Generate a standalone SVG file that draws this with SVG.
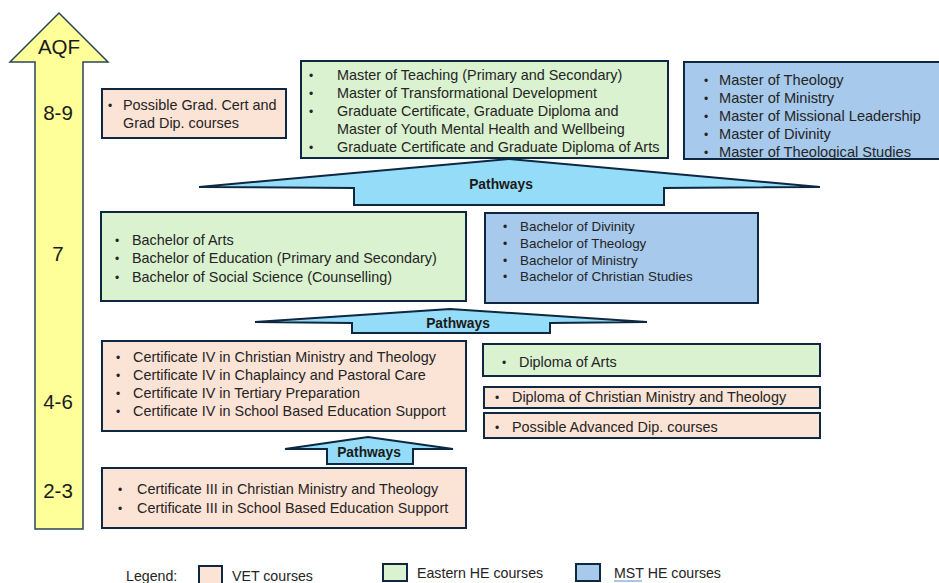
<svg xmlns="http://www.w3.org/2000/svg" width="939" height="583" viewBox="0 0 939 583">
<style>
.box{stroke:#0e2841;stroke-width:2}
.vet{fill:#fbe3d6}
.eh{fill:#daf2d0}
.mst{fill:#a6c9ec}
.pw{fill:#94dcf8;stroke:#0e2841;stroke-width:2;stroke-linejoin:miter}
text{font-family:"Liberation Sans",Arial,sans-serif;fill:#242424}
.t{font-size:14.4px}
.tm{font-size:14.6px}
.tn{font-size:13.4px}
.b{font-size:12px}
.aqf{font-size:20.5px;text-anchor:middle;fill:#1a1a1a}
.pl{font-size:13.8px;font-weight:bold;text-anchor:middle;fill:#1a1a1a}
.lg{font-size:14.2px}
</style>
<rect width="939" height="583" fill="#ffffff"/>

<g id="aqf-arrow">
<polygon points="59,13 108,62 83,62 83,529 35,529 35,62 10,62" fill="#ffff99" stroke="#2a4656" stroke-width="1.5"/>
<text class="aqf" x="59" y="54">AQF</text>
<text class="aqf" x="58" y="120">8-9</text>
<text class="aqf" x="58" y="261">7</text>
<text class="aqf" x="58" y="409">4-6</text>
<text class="aqf" x="58" y="498">2-3</text>
</g>

<g id="connectors">
<g id="pathways-top">
<polygon class="pw" points="199,187 509,159 820,187 664,188 664,205 354,205 354,188"/>
<text class="pl" x="501" y="189">Pathways</text>
</g>
<g id="pathways-mid">
<polygon class="pw" points="255,322 450,309 647,322 550,323 550,333 352,333 352,323"/>
<text class="pl" x="458" y="328">Pathways</text>
</g>
<g id="pathways-low">
<polygon class="pw" points="285,449 368,437 453,449 413,449 413,464 327,464 327,449"/>
<text class="pl" x="369" y="457">Pathways</text>
</g>
</g>

<g id="grad-cert">
<rect class="box vet" x="102" y="89" width="184" height="49"/>
<text class="b" x="108" y="110">•</text>
<text class="t" x="123" y="110">Possible Grad. Cert and</text>
<text class="t" x="123" y="128">Grad Dip. courses</text>
</g>

<g id="eastern-masters">
<rect class="box eh" x="301" y="61" width="367" height="97"/>
<text class="b" x="309" y="80">•</text>
<text class="t" x="337" y="80">Master of Teaching (Primary and Secondary)</text>
<text class="b" x="309" y="98">•</text>
<text class="t" x="337" y="98">Master of Transformational Development</text>
<text class="b" x="309" y="116">•</text>
<text class="t" x="337" y="116">Graduate Certificate, Graduate Diploma and</text>
<text class="t" x="337" y="134">Master of Youth Mental Health and Wellbeing</text>
<text class="b" x="309" y="152">•</text>
<text class="t" x="337" y="152">Graduate Certificate and Graduate Diploma of Arts</text>
</g>

<g id="mst-masters">
<rect class="box mst" x="684" y="62" width="262" height="97"/>
<text class="b" x="704" y="85">•</text>
<text class="tm" x="719" y="85">Master of Theology</text>
<text class="b" x="704" y="103">•</text>
<text class="tm" x="719" y="103">Master of Ministry</text>
<text class="b" x="704" y="121">•</text>
<text class="tm" x="719" y="121">Master of Missional Leadership</text>
<text class="b" x="704" y="139">•</text>
<text class="tm" x="719" y="139">Master of Divinity</text>
<text class="b" x="704" y="157">•</text>
<text class="tm" x="719" y="157">Master of Theological Studies</text>
</g>

<g id="eastern-bachelors">
<rect class="box eh" x="101" y="212" width="365" height="89"/>
<text class="b" x="115" y="245">•</text>
<text class="t" x="132" y="245">Bachelor of Arts</text>
<text class="b" x="115" y="263">•</text>
<text class="t" x="132" y="263">Bachelor of Education (Primary and Secondary)</text>
<text class="b" x="115" y="282">•</text>
<text class="t" x="132" y="282">Bachelor of Social Science (Counselling)</text>
</g>

<g id="mst-bachelors">
<rect class="box mst" x="485" y="213" width="273" height="90"/>
<text class="b" x="503" y="231">•</text>
<text class="tn" x="520" y="231">Bachelor of Divinity</text>
<text class="b" x="503" y="248">•</text>
<text class="tn" x="520" y="248">Bachelor of Theology</text>
<text class="b" x="503" y="265">•</text>
<text class="tn" x="520" y="265">Bachelor of Ministry</text>
<text class="b" x="503" y="281">•</text>
<text class="tn" x="520" y="281">Bachelor of Christian Studies</text>
</g>

<g id="cert-iv">
<rect class="box vet" x="102" y="341" width="364" height="90"/>
<text class="b" x="116" y="362">•</text>
<text class="t" x="133" y="362">Certificate IV in Christian Ministry and Theology</text>
<text class="b" x="116" y="380">•</text>
<text class="t" x="133" y="380">Certificate IV in Chaplaincy and Pastoral Care</text>
<text class="b" x="116" y="398">•</text>
<text class="t" x="133" y="398">Certificate IV in Tertiary Preparation</text>
<text class="b" x="116" y="416">•</text>
<text class="t" x="133" y="416">Certificate IV in School Based Education Support</text>
</g>

<g id="cert-iii">
<rect class="box vet" x="102" y="468" width="364" height="60"/>
<text class="b" x="118" y="494">•</text>
<text class="t" x="137" y="494">Certificate III in Christian Ministry and Theology</text>
<text class="b" x="118" y="513">•</text>
<text class="t" x="137" y="513">Certificate III in School Based Education Support</text>
</g>

<g id="diploma-arts">
<rect class="box eh" x="483" y="344" width="337" height="32"/>
<text class="b" x="502" y="367">•</text>
<text class="t" x="519" y="367">Diploma of Arts</text>
</g>

<g id="diploma-cmt">
<rect class="box vet" x="484" y="387" width="336" height="21"/>
<text class="b" x="495" y="402">•</text>
<text class="t" x="512" y="402">Diploma of Christian Ministry and Theology</text>
</g>

<g id="adv-dip">
<rect class="box vet" x="484" y="413" width="336" height="25"/>
<text class="b" x="495" y="432">•</text>
<text class="t" x="512" y="432">Possible Advanced Dip. courses</text>
</g>

<g id="legend">
<text class="lg" x="126" y="581">Legend:</text>
<rect class="box vet" x="199" y="566" width="23" height="20"/>
<text class="lg" x="232" y="581">VET courses</text>
<rect class="box eh" x="383" y="564" width="24" height="17"/>
<text class="lg" x="417" y="578">Eastern HE courses</text>
<rect class="box mst" x="576" y="564" width="24" height="17"/>
<text class="lg" x="614" y="578">MST HE courses</text>
<line x1="614" y1="581" x2="642" y2="581" stroke="#5b8bd6" stroke-width="1"/>
</g>
</svg>
